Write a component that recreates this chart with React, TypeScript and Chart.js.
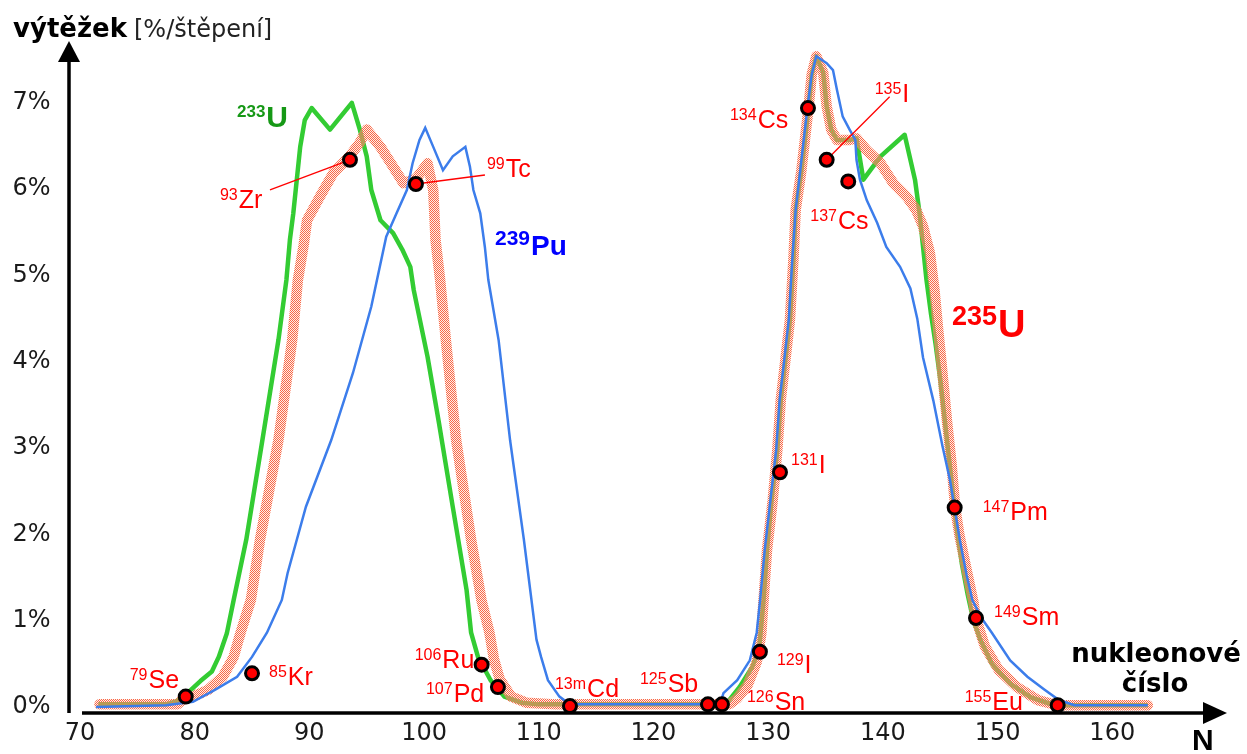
import React, { useEffect, useRef } from 'react';
import { Chart, registerables } from 'chart.js';

Chart.register(...registerables);

// ---------- axis ticks ----------
const X_TICKS = [70, 80, 90, 100, 110, 120, 130, 140, 150, 160];
const Y_TICKS = [0, 1, 2, 3, 4, 5, 6, 7];

// ---------- 233U yield curve ----------
const U233_N = [71.6, 77.5, 78.5, 79.2, 80.5, 81.5, 82.1, 82.8, 83.4, 84.5, 85.9, 87.3, 88.0, 88.3, 88.6, 89.2, 89.6, 90.2, 91.8, 93.7, 94.4, 95.0, 95.4, 96.2, 97.3, 98.1, 98.8, 99.1, 100.3, 101.3, 102.5, 103.7, 104.1, 104.7, 105.1, 105.8, 107.0, 108.5, 110.0, 126.2, 126.6, 127.5, 128.6, 129.2, 129.6, 129.9, 130.3, 130.8, 131.1, 131.5, 131.9, 132.2, 132.4, 132.9, 133.5, 133.8, 134.2, 134.8, 135.1, 135.5, 136.0, 137.1, 137.7, 138.3, 139.8, 141.9, 142.8, 143.2, 143.8, 144.2, 144.6, 145.0, 145.5, 146.0, 146.4, 146.9, 147.4, 147.9, 148.5, 149.5, 151.1, 152.9, 154.5, 156.0, 163.1];
const U233_V = [0.03, 0.03, 0.07, 0.14, 0.30, 0.41, 0.58, 0.85, 1.24, 1.94, 3.09, 4.25, 4.95, 5.41, 5.72, 6.49, 6.80, 6.94, 6.69, 7.00, 6.69, 6.38, 5.99, 5.64, 5.49, 5.30, 5.10, 4.83, 4.06, 3.29, 2.32, 1.36, 0.86, 0.58, 0.48, 0.31, 0.12, 0.05, 0.03, 0.03, 0.08, 0.23, 0.46, 0.66, 1.24, 1.82, 2.40, 2.98, 3.56, 4.02, 4.49, 5.18, 5.76, 6.22, 6.92, 7.33, 7.54, 7.35, 6.96, 6.69, 6.57, 6.57, 6.59, 6.11, 6.38, 6.63, 6.11, 5.72, 4.95, 4.55, 4.20, 3.80, 3.20, 2.60, 2.10, 1.65, 1.30, 1.00, 0.78, 0.50, 0.27, 0.11, 0.04, 0.02, 0.02];

// ---------- 235U yield curve ----------
const U235_N = [71.7, 78.5, 78.9, 79.85, 81.2, 82.45, 83.4, 84.0, 84.9, 85.7, 87.3, 88.5, 89.0, 89.5, 89.8, 90.9, 92.1, 93.5, 94.4, 95.0, 96.2, 97.3, 98.2, 99.3, 100.3, 100.8, 101.0, 101.4, 101.9, 102.8, 104.1, 105.0, 105.7, 106.1, 106.6, 107.6, 108.9, 111.5, 126.6, 127.3, 128.2, 129.0, 129.4, 129.6, 129.9, 130.4, 130.8, 131.1, 131.5, 131.9, 132.2, 132.4, 132.9, 133.5, 133.8, 134.2, 134.8, 135.1, 135.5, 136.0, 137.1, 137.7, 138.6, 139.8, 140.9, 142.1, 142.9, 143.5, 144.1, 144.5, 144.8, 145.1, 145.6, 146.0, 146.3, 146.7, 147.3, 147.9, 148.1, 148.9, 150.1, 151.7, 153.5, 155.2, 163.1];
const U235_V = [0.03, 0.03, 0.08, 0.12, 0.20, 0.35, 0.58, 0.86, 1.24, 1.94, 3.09, 4.25, 4.95, 5.35, 5.64, 5.91, 6.19, 6.38, 6.54, 6.69, 6.49, 6.26, 6.07, 6.12, 6.30, 5.99, 5.41, 4.95, 4.25, 3.09, 1.94, 1.24, 0.86, 0.55, 0.32, 0.12, 0.05, 0.03, 0.03, 0.10, 0.25, 0.52, 0.85, 1.24, 1.82, 2.40, 2.98, 3.56, 4.02, 4.49, 5.18, 5.76, 6.22, 6.92, 7.33, 7.54, 7.35, 6.96, 6.69, 6.57, 6.57, 6.59, 6.45, 6.30, 6.07, 5.91, 5.76, 5.57, 5.26, 4.83, 4.40, 4.00, 3.30, 2.80, 2.31, 1.97, 1.59, 1.21, 1.03, 0.70, 0.43, 0.23, 0.08, 0.02, 0.02];

// ---------- 239Pu yield curve ----------
const PU239_N = [71.4, 77.5, 79.85, 81.8, 83.7, 85.0, 86.3, 87.6, 88.1, 89.7, 91.9, 93.8, 95.4, 96.7, 97.6, 98.5, 99.0, 99.6, 100.1, 100.8, 101.65, 102.5, 103.6, 104.0, 104.3, 104.9, 105.3, 105.6, 106.5, 107.5, 108.7, 109.8, 110.2, 110.8, 111.8, 112.7, 125.8, 126.1, 127.3, 128.4, 129.0, 129.3, 129.7, 130.2, 130.7, 131.0, 131.4, 131.8, 132.1, 132.4, 132.8, 133.4, 133.8, 134.2, 135.1, 135.65, 136.0, 136.5, 137.1, 137.6, 137.7, 138.0, 138.6, 139.5, 140.3, 141.5, 142.4, 143.0, 143.5, 144.4, 145.2, 145.85, 146.2, 146.7, 147.3, 147.8, 148.6, 149.5, 151.1, 152.6, 154.1, 155.35, 156.7, 163.1];
const PU239_V = [0.00, 0.02, 0.06, 0.20, 0.35, 0.58, 0.86, 1.24, 1.55, 2.32, 3.09, 3.87, 4.64, 5.45, 5.72, 5.99, 6.30, 6.57, 6.71, 6.49, 6.22, 6.38, 6.49, 6.26, 5.99, 5.72, 5.33, 4.95, 4.25, 3.09, 1.94, 0.78, 0.58, 0.31, 0.12, 0.03, 0.03, 0.16, 0.31, 0.54, 0.86, 1.24, 1.82, 2.40, 2.98, 3.56, 4.02, 4.49, 5.18, 5.76, 6.22, 6.92, 7.33, 7.54, 7.46, 7.38, 7.15, 6.84, 6.69, 6.57, 6.34, 6.11, 5.87, 5.61, 5.33, 5.10, 4.85, 4.50, 4.05, 3.55, 3.02, 2.63, 2.35, 1.94, 1.53, 1.24, 1.03, 0.86, 0.54, 0.35, 0.20, 0.08, 0.02, 0.02];

// ---------- marked isotopes ----------
const ISO_MASS = ['79', '85', '93', '99', '106', '107', '13m', '125', '126', '129', '131', '134', '135', '137', '147', '149', '155'];
const ISO_SYMBOL = ['Se', 'Kr', 'Zr', 'Tc', 'Ru', 'Pd', 'Cd', 'Sb', 'Sn', 'I', 'I', 'Cs', 'I', 'Cs', 'Pm', 'Sm', 'Eu'];
const ISO_N = [79.22, 85.0, 93.54, 99.29, 105.02, 106.44, 112.72, 124.75, 125.97, 129.28, 131.03, 133.47, 135.1, 136.98, 146.26, 148.12, 155.24];
const ISO_V = [0.12, 0.39, 6.34, 6.06, 0.49, 0.23, 0.01, 0.03, 0.03, 0.64, 2.72, 6.94, 6.34, 6.09, 2.31, 1.03, 0.02];

// label placement (pixel offsets from each marker: left edge of label, text baseline)
const LABEL_DX = [-56, 17, -130, 71, -67, -72, -15, -68, 25, 17, 11, -78, 48, -38, 28, 18, -93];
const LABEL_DY = [-9, 12, 48, -7, 3, 15, -9, -12, 6, 21, 1, 20, -58, 48, 12, 7, 5];
// leader lines: [isotope index, dx, dy] of the far end
const LEADERS = [[2, -80, 30], [3, 69, -9], [12, 63, -63]];

// curve names: [mass, symbol, N, value, colour, supSize, mainSize, rise]
const CURVE_LABELS = [
  ['233', 'U', 83.69, 6.72, '#169816', 17, 30, 10],
  ['239', 'Pu', 106.18, 5.24, '#0000FF', 21, 28, 10],
  ['235', 'U', 146.02, 4.29, '#FF0000', 27, 38, 12],
];

const SANS = '"Liberation Sans", Arial, sans-serif';
const DEJAVU = '"DejaVu Sans", Verdana, sans-serif';

function pts(ns: number[], vs: number[]) {
  return ns.map((n, i) => ({ x: n, y: vs[i] }));
}

function checker(a: string, b: string) {
  const c = document.createElement('canvas');
  c.width = 2;
  c.height = 2;
  const g = c.getContext('2d')!;
  g.fillStyle = a;
  g.fillRect(0, 0, 1, 1);
  g.fillRect(1, 1, 1, 1);
  g.fillStyle = b;
  g.fillRect(1, 0, 1, 1);
  g.fillRect(0, 1, 1, 1);
  return g.createPattern(c, 'repeat')!;
}

function drawSup(ctx: CanvasRenderingContext2D, x: number, y: number, sup: string, main: string, color: string, supFont: string, mainFont: string, rise: number) {
  ctx.fillStyle = color;
  ctx.textAlign = 'left';
  ctx.textBaseline = 'alphabetic';
  ctx.font = supFont;
  ctx.fillText(sup, x, y - rise);
  const w = ctx.measureText(sup).width;
  ctx.font = mainFont;
  ctx.fillText(main, x + w + 1, y);
}

const overlay = {
  id: 'overlay',
  beforeDatasetsDraw(chart: any) {
    const ctx = chart.ctx as CanvasRenderingContext2D;
    const a = chart.chartArea;
    ctx.save();
    ctx.strokeStyle = '#000';
    ctx.fillStyle = '#000';
    ctx.lineWidth = 3.5;
    // y axis
    const yx = a.left + 0.5;
    ctx.beginPath();
    ctx.moveTo(yx, a.bottom);
    ctx.lineTo(yx, 60);
    ctx.stroke();
    ctx.beginPath();
    ctx.moveTo(yx, 41);
    ctx.lineTo(yx - 11, 62);
    ctx.lineTo(yx + 11, 62);
    ctx.closePath();
    ctx.fill();
    // x axis
    ctx.beginPath();
    ctx.moveTo(82, a.bottom);
    ctx.lineTo(1206, a.bottom);
    ctx.stroke();
    ctx.beginPath();
    ctx.moveTo(1227, a.bottom);
    ctx.lineTo(1203, a.bottom - 11);
    ctx.lineTo(1203, a.bottom + 11);
    ctx.closePath();
    ctx.fill();
    ctx.restore();
  },
  beforeDatasetDraw(chart: any, args: any) {
    if (args.index !== 0) return;
    const ctx = chart.ctx as CanvasRenderingContext2D;
    const xs = chart.scales.x;
    const ys = chart.scales.y;
    ctx.save();
    ctx.strokeStyle = '#FF0000';
    ctx.lineWidth = 1.3;
    LEADERS.forEach(([i, dx, dy]) => {
      const px = xs.getPixelForValue(ISO_N[i]);
      const py = ys.getPixelForValue(ISO_V[i]);
      ctx.beginPath();
      ctx.moveTo(px + dx, py + dy);
      ctx.lineTo(px, py);
      ctx.stroke();
    });
    ctx.restore();
  },
  afterDatasetsDraw(chart: any) {
    const ctx = chart.ctx as CanvasRenderingContext2D;
    const xs = chart.scales.x;
    const ys = chart.scales.y;
    ctx.save();
    // isotope labels
    ISO_MASS.forEach((m, i) => {
      const px = xs.getPixelForValue(ISO_N[i]);
      const py = ys.getPixelForValue(ISO_V[i]);
      drawSup(ctx, px + LABEL_DX[i], py + LABEL_DY[i], m, ISO_SYMBOL[i], '#FF0000', `16px ${SANS}`, `25px ${SANS}`, 8);
    });
    // curve labels
    CURVE_LABELS.forEach(([m, s, n, v, c, ss, ms, r]: any) => {
      drawSup(ctx, xs.getPixelForValue(n), ys.getPixelForValue(v), m, s, c, `bold ${ss}px ${SANS}`, `bold ${ms}px ${SANS}`, r);
    });
    // axis titles
    ctx.fillStyle = '#000';
    ctx.textAlign = 'left';
    ctx.textBaseline = 'alphabetic';
    ctx.font = `bold 26px ${DEJAVU}`;
    ctx.fillText('výtěžek', 13, 37);
    ctx.fillStyle = '#222';
    ctx.font = `24px ${DEJAVU}`;
    ctx.fillText('[%/štěpení]', 134, 37);
    ctx.fillStyle = '#000';
    ctx.textAlign = 'center';
    ctx.font = `bold 26px ${DEJAVU}`;
    ctx.fillText('nukleonové', 1156, 662);
    ctx.fillText('číslo', 1155, 692);
    ctx.textAlign = 'left';
    ctx.font = `bold 30px ${SANS}`;
    ctx.fillText('N', 1192, 750);
    ctx.restore();
  },
};

export default function App() {
  const ref = useRef<HTMLCanvasElement>(null);
  useEffect(() => {
    const canvas = ref.current!;
    const chart = new Chart(canvas, {
      type: 'line',
      data: {
        datasets: [
          {
            label: 'isotopes',
            data: pts(ISO_N, ISO_V),
            showLine: false,
            pointRadius: 6.5,
            pointBackgroundColor: '#FF0000',
            pointBorderColor: '#000000',
            pointBorderWidth: 3,
            clip: false,
          } as any,
          {
            label: '239Pu',
            data: pts(PU239_N, PU239_V),
            borderColor: '#3C7DEB',
            borderWidth: 2.5,
            pointRadius: 0,
            tension: 0,
            fill: false,
          },
          {
            label: '235U',
            data: pts(U235_N, U235_V),
            borderColor: checker('#F86848', 'rgba(255,205,190,0.35)') as any,
            borderWidth: 10.5,
            borderJoinStyle: 'round',
            borderCapStyle: 'round',
            pointRadius: 0,
            tension: 0,
            fill: false,
          },
          {
            label: '233U',
            data: pts(U233_N, U233_V),
            borderColor: '#33CC33',
            borderWidth: 4.5,
            borderJoinStyle: 'round',
            pointRadius: 0,
            tension: 0,
            fill: false,
          },
        ],
      },
      options: {
        responsive: false,
        animation: false,
        devicePixelRatio: 1,
        events: [],
        layout: { padding: { top: 42.45, right: 31.5, left: 0, bottom: 0 } },
        plugins: { legend: { display: false }, tooltip: { enabled: false } },
        scales: {
          x: {
            type: 'linear',
            min: 69,
            max: 169,
            grid: { display: false, drawTicks: false },
            border: { display: false },
            afterFit: (s: any) => { s.height = 41; },
            afterBuildTicks: (s: any) => { s.ticks = X_TICKS.map((v) => ({ value: v })); },
            ticks: {
              autoSkip: false,
              maxRotation: 0,
              padding: 6,
              color: '#1a1a1a',
              font: { family: DEJAVU, size: 24 },
              callback: (v: any) => String(v),
            },
          },
          y: {
            type: 'linear',
            min: -0.07,
            max: 7.7,
            grid: { display: false, drawTicks: false },
            border: { display: false },
            afterFit: (s: any) => { s.width = 68.5; },
            afterBuildTicks: (s: any) => { s.ticks = Y_TICKS.map((v) => ({ value: v })); },
            ticks: {
              autoSkip: false,
              padding: 18,
              color: '#1a1a1a',
              font: { family: DEJAVU, size: 24 },
              callback: (v: any) => `${v}%`,
            },
          },
        },
      },
      plugins: [overlay],
    });
    return () => chart.destroy();
  }, []);
  return (
    <div style={{ position: 'absolute', left: 0, top: 0, width: 1247, height: 754, background: '#fff' }}>
      <canvas ref={ref} width={1247} height={754} style={{ display: 'block' }} />
    </div>
  );
}
